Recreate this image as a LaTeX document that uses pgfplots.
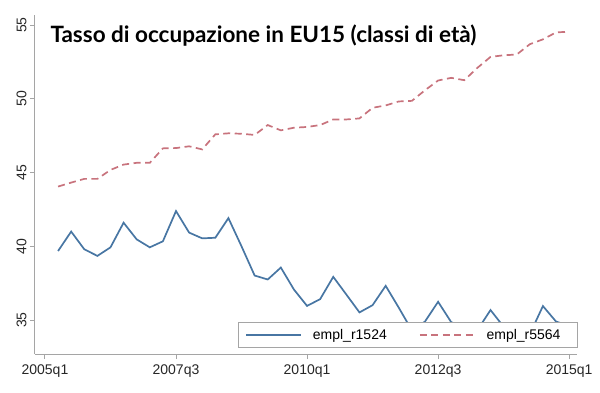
\documentclass[border=0pt]{standalone}
\usepackage{fontspec}
\setmainfont{Liberation Sans}
\newfontfamily\titlefont{Lato}
\usepackage{pgfplots}
\pgfplotsset{compat=1.18}
\definecolor{sblue}{RGB}{72,118,163}
\definecolor{sred}{RGB}{200,115,125}
\definecolor{axgray}{RGB}{165,165,165}
\begin{document}
\begin{tikzpicture}
\path[use as bounding box] (-35pt,-38pt) rectangle (565pt,354pt);
\begin{axis}[
 at={(0,0)}, anchor=south west,
 scale only axis, width=542pt, height=339pt,
 xmin=-0.76, xmax=40.6, ymin=32.7, ymax=55.68,
 axis x line*=bottom, axis y line*=left,
 axis line style={axgray, line width=1pt, -},
 xtick={0,10,20,30,40}, xticklabels={2005q1,2007q3,2010q1,2012q3,2015q1},
 ytick={35,40,45,50,55},
 tick align=outside, major tick length=5pt,
 tick style={axgray, line width=1pt},
 minor tick num=0,
 tick label style={font=\fontsize{14}{16}\selectfont, text=black!85},
 xticklabel style={yshift=-2pt},
 yticklabel style={rotate=90, anchor=south},
 /pgf/number format/assume math mode=true,
 legend columns=2,
 legend style={at={(0.374,0.0168)}, anchor=south west, draw=axgray, line width=1pt, fill=white, inner xsep=7pt, inner ysep=7pt,
   nodes={text width=84pt, align=left, inner sep=0pt, font=\fontsize{14}{16}\selectfont},
   /tikz/every odd column/.append style={column sep=11pt},
   /tikz/every even column/.append style={column sep=22pt}},
 legend image code/.code={\draw[#1] (0pt,0pt) -- (55pt,0pt);},
]
\addplot[sblue, line width=1.7pt] table {
x y
1 39.68
2 41.00
3 39.80
4 39.35
5 39.93
6 41.60
7 40.47
8 39.93
9 40.34
10 42.39
11 40.93
12 40.54
13 40.58
14 41.91
15 40.00
16 38.02
17 37.75
18 38.56
19 37.07
20 35.96
21 36.42
22 37.93
23 36.73
24 35.52
25 36.01
26 37.32
27 35.84
28 34.30
29 34.90
30 36.24
31 34.86
32 34.50
33 34.32
34 35.68
35 34.55
36 34.40
37 34.05
38 35.95
39 34.90
40 34.60
};
\addlegendentry{empl\_r1524}
\addplot[sred, line width=1.7pt, dash pattern=on 7pt off 4.5pt] table {
x y
1 44.05
2 44.32
3 44.57
4 44.57
5 45.18
6 45.54
7 45.66
8 45.66
9 46.64
10 46.66
11 46.78
12 46.57
13 47.59
14 47.66
15 47.63
16 47.55
17 48.22
18 47.86
19 48.04
20 48.09
21 48.22
22 48.60
23 48.60
24 48.67
25 49.39
26 49.55
27 49.82
28 49.86
29 50.58
30 51.24
31 51.42
32 51.26
33 52.10
34 52.84
35 52.95
36 53.00
37 53.70
38 54.03
39 54.50
40 54.55
};
\addlegendentry{empl\_r5564}
\end{axis}
\node[anchor=base west, font=\titlefont\bfseries\fontsize{22.5}{25}\selectfont] at (12pt,312pt) {Tasso di occupazione in EU15 (classi di età)};
\end{tikzpicture}
\end{document}
